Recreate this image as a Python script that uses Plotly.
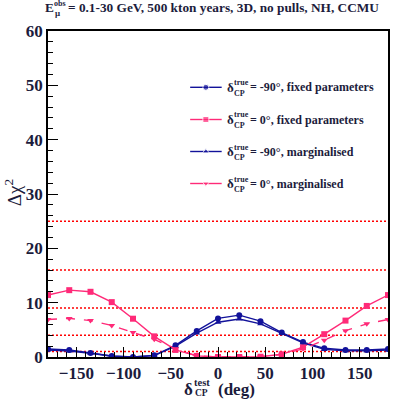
import plotly.graph_objects as go

# ---------------- data ----------------
DELTA_TEST = [-180, -157.5, -135, -112.5, -90, -67.5, -45, -22.5, 0,
              22.5, 45, 67.5, 90, 112.5, 135, 157.5, 180]
CHI2_M90_FIXED = [1.47, 1.3, 0.74, 0.18, 0.0, 0.3, 2.15, 4.8, 7.1,
                  7.7, 6.6, 4.5, 2.75, 1.6, 1.3, 1.3, 1.47]
CHI2_0_FIXED = [11.4, 12.3, 12.0, 10.1, 7.05, 3.8, 1.3, 0.2, 0.0,
                0.0, 0.05, 0.5, 1.8, 4.2, 6.7, 9.4, 11.4]
CHI2_M90_MARG = [1.3, 1.1, 0.7, 0.15, 0.0, 0.25, 2.0, 4.4, 6.4,
                 7.0, 6.1, 4.35, 2.6, 1.4, 1.15, 1.15, 1.3]
CHI2_0_MARG = [6.9, 7.1, 6.7, 5.8, 4.5, 3.25, 1.5, 0.2, 0.0,
               0.0, 0.05, 0.45, 1.5, 3.1, 4.85, 6.1, 6.9]
CL_LEVELS = [1, 4, 9, 16, 25]
X_TICKS = [-150, -100, -50, 0, 50, 100, 150]
Y_TICKS = [0, 10, 20, 30, 40, 50, 60]
LEGEND_LABELS = ["= -90°, fixed parameters", "= 0°, fixed parameters",
                 "= -90°, marginalised", "= 0°, marginalised"]

BLUE = "#12129a"
RED = "#ff2a78"
FONT = "Liberation Serif"
TXT = "#1c1c3c"

W, H = 395, 400
L, R, T, B = 48, 5, 31, 43
PW, PH = W - L - R, H - T - B


def pxx(x):
    return (x - L) / PW


def pxy(y):
    return (H - B - y) / PH


def note(text, x, y, size, bold=True, anchor="left", angle=0):
    f = dict(family=FONT, size=size, color=TXT)
    if bold:
        f["weight"] = "bold"
    fig.add_annotation(text=text, x=pxx(x), y=pxy(y), xref="paper", yref="paper",
                       xanchor=anchor, yanchor="middle", showarrow=False,
                       textangle=angle, font=f, borderpad=0)


series = [
    (CHI2_M90_FIXED, BLUE, "circle", "solid", 6),
    (CHI2_0_FIXED, RED, "square", "solid", 6),
    (CHI2_M90_MARG, BLUE, "triangle-up", "solid", 6),
    (CHI2_0_MARG, RED, "triangle-down", "dash", 6),
]

fig = go.Figure()

for vals, col, sym, dash, ms in series:
    fig.add_trace(go.Scatter(
        x=DELTA_TEST, y=vals, mode="lines+markers",
        line=dict(color=col, width=1.4, dash=dash),
        marker=dict(color=col, symbol=sym, size=ms),
        showlegend=False, hoverinfo="skip"))

# confidence level reference lines
for lv in CL_LEVELS:
    fig.add_shape(type="line", xref="x", yref="y", x0=-180, x1=180, y0=lv, y1=lv,
                  line=dict(color="#ff0000", width=1.5, dash="2px,2px"), layer="below")

# manual legend on overlay axis
leg_rows = [87.3, 119.5, 151.5, 183.5]
for (vals, col, sym, dash, ms), yrow, lab in zip(series, leg_rows, LEGEND_LABELS):
    fig.add_trace(go.Scatter(
        x=[pxx(191), pxx(206.8), pxx(222.7)], y=[pxy(yrow)] * 3,
        xaxis="x2", yaxis="y2", mode="lines+markers",
        line=dict(color=col, width=1.4),
        marker=dict(color=col, symbol=sym, size=[0, ms, 0]),
        showlegend=False, hoverinfo="skip"))
    note("δ", 227, yrow, 13)
    note("true", 234, yrow - 4.5, 8)
    note("CP", 234.5, yrow + 6, 8)
    note(lab, 250, yrow, 12)

# title
note("E", 44, 7.5, 13.3)
note("obs", 53.5, 3.5, 8)
note("μ", 54, 12.5, 9)
note("= 0.1-30 GeV, 500 kton years, 3D, no pulls, NH, CCMU", 67, 7.5, 13.3)

# x axis title
note("δ", 184, 389, 17)
note("test", 194, 382.5, 10.5)
note("CP", 194.5, 393.5, 9.5)
note("(deg)", 218, 389.5, 17)

# y axis title
note("Δχ<sup>2</sup>", 13, 193, 19, bold=False, anchor="center", angle=-90)

tick_font = dict(family=FONT, size=17, color=TXT, weight="bold")
fig.update_layout(
    width=W, height=H, autosize=False,
    margin=dict(l=L, r=R, t=T, b=B),
    paper_bgcolor="white", plot_bgcolor="white",
    showlegend=False,
    xaxis=dict(range=[-180, 180], tickvals=X_TICKS, ticks="inside", ticklen=10,
               tickwidth=1, tickcolor="black", showgrid=False, zeroline=False,
               showline=True, linecolor="black", linewidth=1.5, mirror=True,
               tickfont=tick_font,
               minor=dict(dtick=10, tick0=0, ticks="inside", ticklen=5,
                          tickcolor="black", showgrid=False)),
    yaxis=dict(range=[0, 60], tickvals=Y_TICKS, ticks="inside", ticklen=10,
               tickwidth=1, tickcolor="black", showgrid=False, zeroline=False,
               showline=True, linecolor="black", linewidth=1.5, mirror=True,
               tickfont=tick_font,
               minor=dict(dtick=2, tick0=0, ticks="inside", ticklen=5,
                          tickcolor="black", showgrid=False)),
    xaxis2=dict(range=[0, 1], overlaying="x", visible=False, fixedrange=True),
    yaxis2=dict(range=[0, 1], overlaying="y", visible=False, fixedrange=True),
)

fig.write_html("out.html")
